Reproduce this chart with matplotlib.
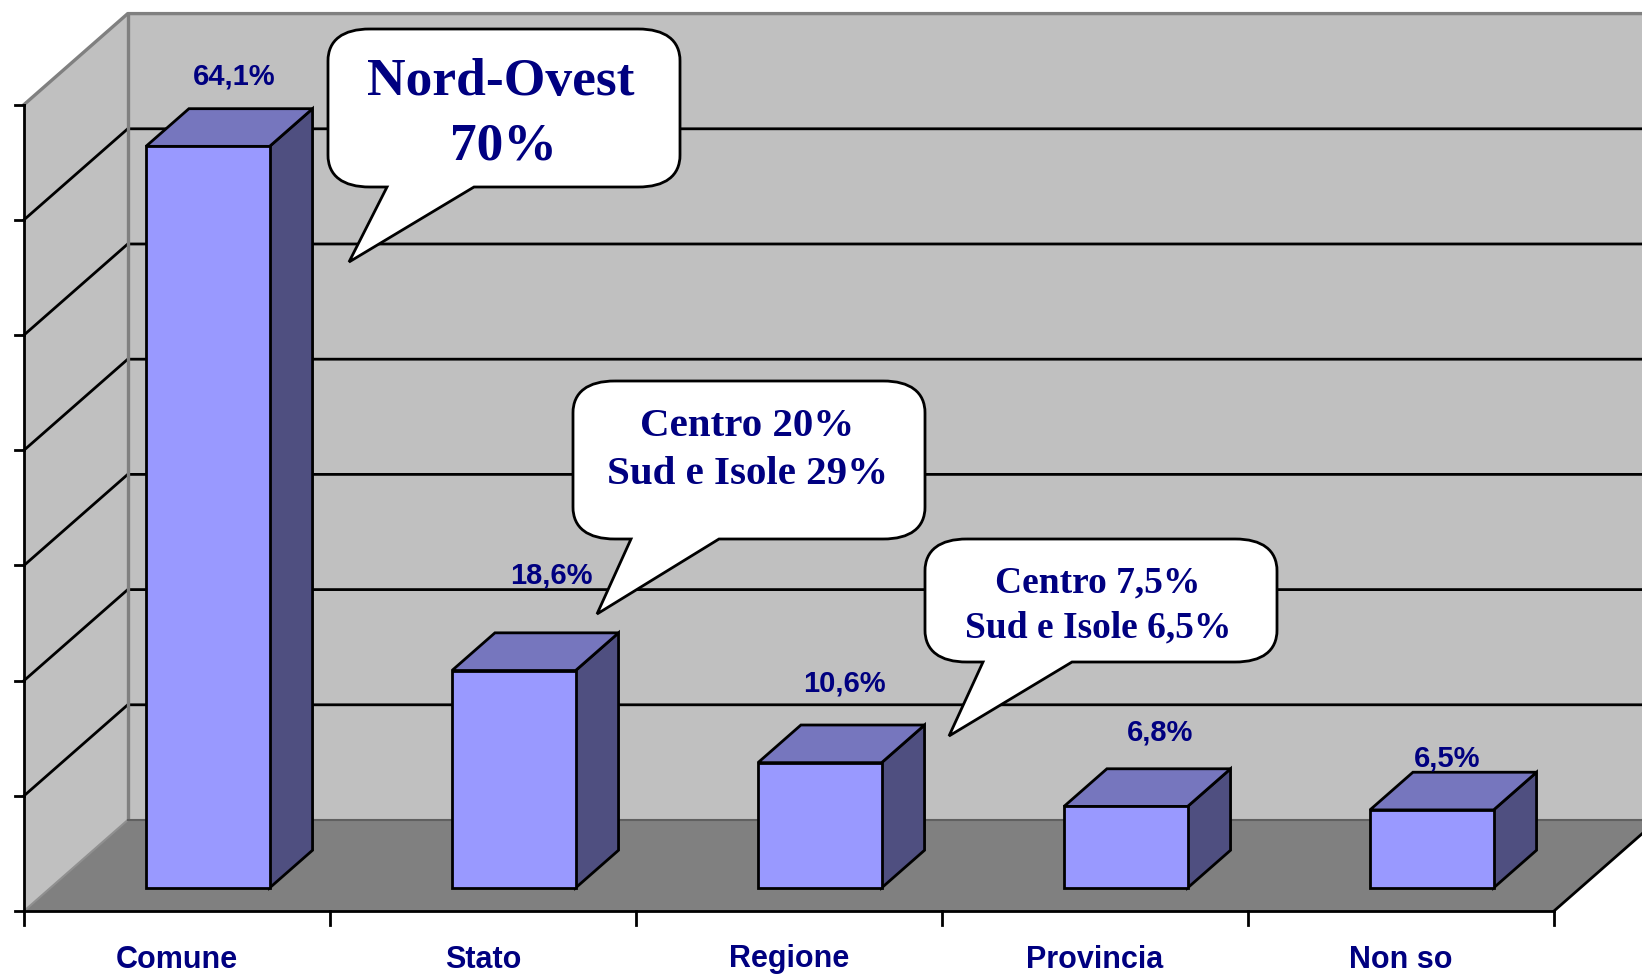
import matplotlib
matplotlib.use("Agg")
import matplotlib.pyplot as plt
from matplotlib.patches import Polygon, PathPatch
from matplotlib.path import Path

categories = ["Comune", "Stato", "Regione", "Provincia", "Non so"]
values = [64.1, 18.6, 10.6, 6.8, 6.5]
value_labels = ["64,1%", "18,6%", "10,6%", "6,8%", "6,5%"]
y_ticks = [0, 10, 20, 30, 40, 50, 60, 70]

NAVY = "#000080"
SANS = ["Liberation Sans", "DejaVu Sans"]
SERIF = ["Liberation Serif", "DejaVu Serif"]

# pixel size of one category / one percent point, and where the origin sits
W, H = 1642, 974
cat_px, pct_px = 306.0, 11.52
x0_px, y0_px = 24.0, 911.0

# oblique depth of the chart box, in data units
depth_x, depth_y = 0.339, 7.9

# bars: front/back position inside the box, width, small base below zero
bar_front, bar_back = 0.288, 0.702
bar_width = 0.404
bar_shift = 0.003
bar_base = -0.27

LW = 2.0

fig = plt.figure(figsize=(W / 100, H / 100), dpi=100)
ax = fig.add_axes([0, 0, 1, 1])
ax.set_xlim(-x0_px / cat_px, (W - x0_px) / cat_px)
ax.set_ylim(-(H - y0_px) / pct_px, y0_px / pct_px)
ax.axis("off")


def proj(x, v, d=0.0):
    # oblique projection: d=0 is the front of the box, d=1 the back wall
    return (x + d * depth_x, v + d * depth_y)


n = len(categories)
top = y_ticks[-1]
# walls and floor
ax.add_patch(Polygon([proj(0, 0, 1), proj(0, top, 1), proj(n, top, 1), proj(n, 0, 1)],
                     fc="#C0C0C0", ec="none", zorder=1))
ax.add_patch(Polygon([proj(0, 0), proj(0, top), proj(0, top, 1), proj(0, 0, 1)],
                     fc="#C0C0C0", ec="none", zorder=1))
ax.add_patch(Polygon([proj(0, 0), proj(0, 0, 1), proj(n, 0, 1), proj(n, 0)],
                     fc="#808080", ec="none", zorder=1))

# gridlines, wall edges
for t in y_ticks[1:-1]:
    xs, ys = zip(proj(0, t), proj(0, t, 1), proj(n, t, 1))
    ax.plot(xs, ys, color="black", lw=LW, zorder=2, solid_joinstyle="miter")
xs, ys = zip(proj(0, top), proj(0, top, 1), proj(n, top, 1))
ax.plot(xs, ys, color="#808080", lw=2.4, zorder=2)
xs, ys = zip(proj(0, top, 1), proj(0, 0, 1))
ax.plot(xs, ys, color="#808080", lw=2.4, zorder=2)
xs, ys = zip(proj(0, 0), proj(0, 0, 1))
ax.plot(xs, ys, color="#909090", lw=1.5, zorder=2)
xs, ys = zip(proj(0, 0, 1), proj(n, 0, 1))
ax.plot(xs, ys, color="#606060", lw=1.5, zorder=2)

# axes and ticks
tick_x = 9 / cat_px
tick_y = 14 / pct_px
ax.plot([0, 0], [0, top], color="black", lw=LW, zorder=3)
for t in y_ticks:
    ax.plot([-tick_x, 0], [t, t], color="black", lw=LW, zorder=3)
ax.plot([0, n], [0, 0], color="black", lw=LW, zorder=3)
for i in range(n + 1):
    ax.plot([i, i], [0, -tick_y], color="black", lw=LW, zorder=3)
xs, ys = zip(proj(n, 0), proj(n, 0, 1))
ax.plot(xs, ys, color="black", lw=LW, zorder=3)

# 3D bars
for i, v in enumerate(values):
    left = i + 0.5 - bar_width / 2 + bar_shift
    right = left + bar_width
    front = [proj(left, bar_base, bar_front), proj(right, bar_base, bar_front),
             proj(right, v, bar_front), proj(left, v, bar_front)]
    roof = [proj(left, v, bar_front), proj(right, v, bar_front),
            proj(right, v, bar_back), proj(left, v, bar_back)]
    side = [proj(right, bar_base, bar_front), proj(right, bar_base, bar_back),
            proj(right, v, bar_back), proj(right, v, bar_front)]
    ax.add_patch(Polygon(side, fc="#4F4F80", ec="black", lw=LW, zorder=4, joinstyle="miter"))
    ax.add_patch(Polygon(roof, fc="#7676BE", ec="black", lw=LW, zorder=4, joinstyle="miter"))
    ax.add_patch(Polygon(front, fc="#9999FF", ec="black", lw=LW, zorder=5, joinstyle="miter"))

# value labels sit where they were dragged by hand in the original (pixel offsets from the bar)
label_dx = [25, 36, 24, 33, 15]
label_dy = [67, 91, 76, 71, 49]
for i, v in enumerate(values):
    cx = i + 0.5 + bar_shift + bar_front * depth_x + label_dx[i] * 1.047 / cat_px
    cy = v + bar_front * depth_y + label_dy[i] * 1.047 / pct_px
    ax.text(cx, cy, value_labels[i], color=NAVY, fontsize=21, fontweight="bold",
            family=SANS, ha="center", va="center", zorder=6)

# category labels
for i, c in enumerate(categories):
    ax.text(i + 0.5, -48.5 / pct_px, c, color=NAVY, fontsize=22, fontweight="bold",
            family=SANS, ha="center", va="center", zorder=6)


def callout(x1, y1, x2, y2, tip, base1, base2, rx=42, ry=32):
    # speech bubble in image pixels, y pointing down
    kx, ky = rx * 0.35, ry * 0.35
    verts = [(x1 + rx, y1), (x2 - rx, y1),
             (x2 - kx, y1), (x2, y1 + ky), (x2, y1 + ry),
             (x2, y2 - ry),
             (x2, y2 - ky), (x2 - kx, y2), (x2 - rx, y2),
             (base2, y2), tip, (base1, y2), (x1 + rx, y2),
             (x1 + kx, y2), (x1, y2 - ky), (x1, y2 - ry),
             (x1, y1 + ry),
             (x1, y1 + ky), (x1 + kx, y1), (x1 + rx, y1)]
    codes = [Path.MOVETO, Path.LINETO,
             Path.CURVE4, Path.CURVE4, Path.CURVE4,
             Path.LINETO,
             Path.CURVE4, Path.CURVE4, Path.CURVE4,
             Path.LINETO, Path.LINETO, Path.LINETO, Path.LINETO,
             Path.CURVE4, Path.CURVE4, Path.CURVE4,
             Path.LINETO,
             Path.CURVE4, Path.CURVE4, Path.CURVE4]
    verts = [(x / W, 1 - y / H) for x, y in verts]
    ax.add_patch(PathPatch(Path(verts, codes), fc="white", ec="black", lw=LW,
                           transform=fig.transFigure, zorder=7, joinstyle="miter"))


callout(328, 29, 680, 187, (349, 262), 387, 474)
callout(573, 381, 925, 539, (597, 614), 631, 719)
callout(925, 539, 1277, 662, (949, 736), 983, 1072)


def bubble_text(x, y, s, size):
    ax.text(x / W, 1 - y / H, s, color=NAVY, fontsize=size, fontweight="bold", family=SERIF,
            ha="center", va="center", transform=fig.transFigure, zorder=8)


bubble_text(501, 82, "Nord-Ovest", 38.5)
bubble_text(503, 146, "70%", 38.5)
bubble_text(747, 427, "Centro 20%", 29.5)
bubble_text(748, 475, "Sud e Isole 29%", 29.5)
bubble_text(1098, 583, "Centro 7,5%", 27)
bubble_text(1098, 628, "Sud e Isole 6,5%", 27)

fig.savefig("out.png", dpi=100)
